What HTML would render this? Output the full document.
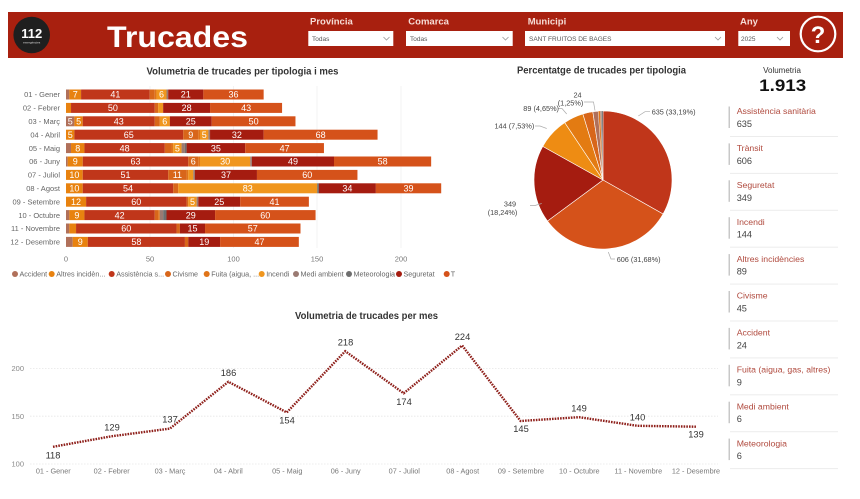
<!DOCTYPE html>
<html>
<head>
<meta charset="utf-8">
<style>
html,body{margin:0;padding:0;background:#fff;}
body{width:860px;height:499px;overflow:hidden;font-family:"Liberation Sans",Arial,sans-serif;}
svg{display:block;}
text{font-family:"Liberation Sans",Arial,sans-serif;}
</style>
</head>
<body>
<svg width="860" height="499" viewBox="0 0 860 499" xmlns="http://www.w3.org/2000/svg">
<rect x="0" y="0" width="860" height="499" fill="#ffffff"/>

<!-- ================= HEADER ================= -->
<rect x="8" y="12" width="835" height="46" fill="#a8200f"/>
<circle cx="31.7" cy="35" r="18.3" fill="#1f1f1f"/>
<text x="31.7" y="38" font-size="13" font-weight="bold" fill="#fff" text-anchor="middle">112</text>
<text x="31.7" y="43.5" font-size="3" fill="#ddd" text-anchor="middle">emergències</text>
<text x="107" y="47" font-size="30" font-weight="bold" fill="#fff" textLength="141" lengthAdjust="spacingAndGlyphs">Trucades</text>

<g font-size="9.5" font-weight="bold" fill="#f6dcd6">
  <text x="310" y="24.5">Província</text>
  <text x="408.3" y="24.5">Comarca</text>
  <text x="527.7" y="24.5">Municipi</text>
  <text x="740" y="24.5">Any</text>
</g>
<g fill="#fff">
  <rect x="308.3" y="31" width="85" height="15"/>
  <rect x="406" y="31" width="106.7" height="15"/>
  <rect x="525" y="31" width="200" height="15"/>
  <rect x="738.3" y="31" width="51.7" height="15"/>
</g>
<g font-size="6.5" fill="#555">
  <text x="312" y="41">Todas</text>
  <text x="410" y="41">Todas</text>
  <text x="529" y="41">SANT FRUITOS DE BAGES</text>
  <text x="741" y="41">2025</text>
</g>
<g stroke="#9a9a9a" stroke-width="0.8" fill="none">
  <polyline points="383.5,37 386.5,40 389.5,37"/>
  <polyline points="502.5,37 505.5,40 508.5,37"/>
  <polyline points="715,37 718,40 721,37"/>
  <polyline points="777,37 780,40 783,37"/>
</g>
<circle cx="818" cy="34" r="17.3" fill="none" stroke="#fff" stroke-width="2.2"/>
<text x="818" y="43" font-size="24" font-weight="bold" fill="#fff" text-anchor="middle">?</text>

<!-- ================= BAR CHART ================= -->
<text x="242.5" y="74.5" font-size="10" font-weight="bold" fill="#333" text-anchor="middle" textLength="192" lengthAdjust="spacingAndGlyphs">Volumetria de trucades per tipologia i mes</text>

<g stroke="#f3f3f3" stroke-width="1">
  <line x1="150" y1="86" x2="150" y2="248"/>
  <line x1="233.5" y1="86" x2="233.5" y2="248"/>
  <line x1="317" y1="86" x2="317" y2="248"/>
  <line x1="401" y1="86" x2="401" y2="248"/>
</g>

<g font-size="7.5" fill="#666" text-anchor="end">
  <text x="60" y="97.2">01 - Gener</text>
  <text x="60" y="110.6">02 - Febrer</text>
  <text x="60" y="124">03 - Març</text>
  <text x="60" y="137.4">04 - Abril</text>
  <text x="60" y="150.8">05 - Maig</text>
  <text x="60" y="164.2">06 - Juny</text>
  <text x="60" y="177.6">07 - Juliol</text>
  <text x="60" y="191">08 - Agost</text>
  <text x="60" y="204.4">09 - Setembre</text>
  <text x="60" y="217.8">10 - Octubre</text>
  <text x="60" y="231.2">11 - Novembre</text>
  <text x="60" y="244.6">12 - Desembre</text>
</g>

<!-- Row 1 -->
<g>
<rect x="66" y="89.5" width="3.35" height="10" fill="#b0705a"/>
<rect x="69.35" y="89.5" width="11.725" height="10" fill="#e8820f"/>
<rect x="81.075" y="89.5" width="68.675" height="10" fill="#c0361a"/>
<rect x="149.75" y="89.5" width="5.025" height="10" fill="#d8661a"/>
<rect x="154.775" y="89.5" width="1.675" height="10" fill="#e07418"/>
<rect x="156.45" y="89.5" width="10.05" height="10" fill="#f0961e"/>
<rect x="166.5" y="89.5" width="1.675" height="10" fill="#9a7a72"/>
<rect x="168.175" y="89.5" width="35.175" height="10" fill="#a51c10"/>
<rect x="203.35" y="89.5" width="60.3" height="10" fill="#d5521a"/>
</g>
<!-- Row 2 -->
<g>
<rect x="66" y="102.9" width="5.025" height="10" fill="#e8820f"/>
<rect x="71.025" y="102.9" width="83.75" height="10" fill="#c0361a"/>
<rect x="154.775" y="102.9" width="3.35" height="10" fill="#d8661a"/>
<rect x="158.125" y="102.9" width="5.025" height="10" fill="#f0961e"/>
<rect x="163.15" y="102.9" width="46.9" height="10" fill="#a51c10"/>
<rect x="210.05" y="102.9" width="72.025" height="10" fill="#d5521a"/>
</g>
<!-- Row 3 -->
<g>
<rect x="66" y="116.3" width="8.375" height="10" fill="#b0705a"/>
<rect x="74.375" y="116.3" width="8.375" height="10" fill="#e8820f"/>
<rect x="82.75" y="116.3" width="72.025" height="10" fill="#c0361a"/>
<rect x="154.775" y="116.3" width="5.025" height="10" fill="#d8661a"/>
<rect x="159.8" y="116.3" width="10.05" height="10" fill="#f0961e"/>
<rect x="169.85" y="116.3" width="41.875" height="10" fill="#a51c10"/>
<rect x="211.725" y="116.3" width="83.75" height="10" fill="#d5521a"/>
</g>
<!-- Row 4 -->
<g>
<rect x="66" y="129.7" width="8.375" height="10" fill="#e8820f"/>
<rect x="74.375" y="129.7" width="108.875" height="10" fill="#c0361a"/>
<rect x="183.25" y="129.7" width="15.075" height="10" fill="#d8661a"/>
<rect x="198.325" y="129.7" width="1.675" height="10" fill="#e07418"/>
<rect x="200" y="129.7" width="8.375" height="10" fill="#f0961e"/>
<rect x="208.375" y="129.7" width="1.675" height="10" fill="#9a7a72"/>
<rect x="210.05" y="129.7" width="53.6" height="10" fill="#a51c10"/>
<rect x="263.65" y="129.7" width="113.9" height="10" fill="#d5521a"/>
</g>
<!-- Row 5 -->
<g>
<rect x="66" y="143.1" width="5.025" height="10" fill="#b0705a"/>
<rect x="71.025" y="143.1" width="13.4" height="10" fill="#e8820f"/>
<rect x="84.425" y="143.1" width="80.4" height="10" fill="#c0361a"/>
<rect x="164.825" y="143.1" width="6.7" height="10" fill="#d8661a"/>
<rect x="171.525" y="143.1" width="1.675" height="10" fill="#e07418"/>
<rect x="173.2" y="143.1" width="8.375" height="10" fill="#f0961e"/>
<rect x="181.575" y="143.1" width="3.35" height="10" fill="#9a7a72"/>
<rect x="184.925" y="143.1" width="1.675" height="10" fill="#6e6e6e"/>
<rect x="186.6" y="143.1" width="58.625" height="10" fill="#a51c10"/>
<rect x="245.225" y="143.1" width="78.725" height="10" fill="#d5521a"/>
</g>
<!-- Row 6 -->
<g>
<rect x="66" y="156.5" width="1.675" height="10" fill="#b0705a"/>
<rect x="67.675" y="156.5" width="15.075" height="10" fill="#e8820f"/>
<rect x="82.75" y="156.5" width="105.525" height="10" fill="#c0361a"/>
<rect x="188.275" y="156.5" width="10.05" height="10" fill="#d8661a"/>
<rect x="198.325" y="156.5" width="1.675" height="10" fill="#e07418"/>
<rect x="200" y="156.5" width="50.25" height="10" fill="#f0961e"/>
<rect x="250.25" y="156.5" width="1.675" height="10" fill="#9a7a72"/>
<rect x="251.925" y="156.5" width="82.075" height="10" fill="#a51c10"/>
<rect x="334" y="156.5" width="97.15" height="10" fill="#d5521a"/>
</g>
<!-- Row 7 -->
<g>
<rect x="66" y="169.9" width="16.75" height="10" fill="#e8820f"/>
<rect x="82.75" y="169.9" width="85.425" height="10" fill="#c0361a"/>
<rect x="168.175" y="169.9" width="18.425" height="10" fill="#d8661a"/>
<rect x="186.6" y="169.9" width="1.675" height="10" fill="#e07418"/>
<rect x="188.275" y="169.9" width="5.025" height="10" fill="#f0961e"/>
<rect x="193.3" y="169.9" width="1.675" height="10" fill="#9a7a72"/>
<rect x="194.975" y="169.9" width="61.975" height="10" fill="#a51c10"/>
<rect x="256.95" y="169.9" width="100.5" height="10" fill="#d5521a"/>
</g>
<!-- Row 8 -->
<g>
<rect x="66" y="183.3" width="16.75" height="10" fill="#e8820f"/>
<rect x="82.75" y="183.3" width="90.45" height="10" fill="#c0361a"/>
<rect x="173.2" y="183.3" width="5.025" height="10" fill="#d8661a"/>
<rect x="178.225" y="183.3" width="139.025" height="10" fill="#f0961e"/>
<rect x="317.25" y="183.3" width="1.675" height="10" fill="#6e6e6e"/>
<rect x="318.925" y="183.3" width="56.95" height="10" fill="#a51c10"/>
<rect x="375.875" y="183.3" width="65.325" height="10" fill="#d5521a"/>
</g>
<!-- Row 9 -->
<g>
<rect x="66" y="196.7" width="20.1" height="10" fill="#e8820f"/>
<rect x="86.1" y="196.7" width="100.5" height="10" fill="#c0361a"/>
<rect x="186.6" y="196.7" width="1.675" height="10" fill="#d8661a"/>
<rect x="188.275" y="196.7" width="8.375" height="10" fill="#f0961e"/>
<rect x="196.65" y="196.7" width="1.675" height="10" fill="#9a7a72"/>
<rect x="198.325" y="196.7" width="41.875" height="10" fill="#a51c10"/>
<rect x="240.2" y="196.7" width="68.675" height="10" fill="#d5521a"/>
</g>
<!-- Row 10 -->
<g>
<rect x="66" y="210.1" width="3.35" height="10" fill="#b0705a"/>
<rect x="69.35" y="210.1" width="15.075" height="10" fill="#e8820f"/>
<rect x="84.425" y="210.1" width="70.35" height="10" fill="#c0361a"/>
<rect x="154.775" y="210.1" width="3.35" height="10" fill="#d8661a"/>
<rect x="158.125" y="210.1" width="1.675" height="10" fill="#e07418"/>
<rect x="159.8" y="210.1" width="3.35" height="10" fill="#9a7a72"/>
<rect x="163.15" y="210.1" width="3.35" height="10" fill="#6e6e6e"/>
<rect x="166.5" y="210.1" width="48.575" height="10" fill="#a51c10"/>
<rect x="215.075" y="210.1" width="100.5" height="10" fill="#d5521a"/>
</g>
<!-- Row 11 -->
<g>
<rect x="66" y="223.5" width="3.35" height="10" fill="#b0705a"/>
<rect x="69.35" y="223.5" width="6.7" height="10" fill="#e8820f"/>
<rect x="76.05" y="223.5" width="100.5" height="10" fill="#c0361a"/>
<rect x="176.55" y="223.5" width="3.35" height="10" fill="#d8661a"/>
<rect x="179.9" y="223.5" width="25.125" height="10" fill="#a51c10"/>
<rect x="205.025" y="223.5" width="95.475" height="10" fill="#d5521a"/>
</g>
<!-- Row 12 -->
<g>
<rect x="66" y="236.9" width="6.7" height="10" fill="#b0705a"/>
<rect x="72.7" y="236.9" width="15.075" height="10" fill="#e8820f"/>
<rect x="87.775" y="236.9" width="97.15" height="10" fill="#c0361a"/>
<rect x="184.925" y="236.9" width="3.35" height="10" fill="#d8661a"/>
<rect x="188.275" y="236.9" width="31.825" height="10" fill="#a51c10"/>
<rect x="220.1" y="236.9" width="78.725" height="10" fill="#d5521a"/>
</g>

<!-- bar labels -->
<g font-size="9" fill="#fff" text-anchor="middle">
  <text x="75.2" y="97.7">7</text><text x="115.4" y="97.7">41</text><text x="161.5" y="97.7">6</text><text x="185.8" y="97.7">21</text><text x="233.5" y="97.7">36</text>
  <text x="112.9" y="111.1">50</text><text x="186.6" y="111.1">28</text><text x="246.1" y="111.1">43</text>
  <text x="70.2" y="124.5">5</text><text x="78.6" y="124.5">5</text><text x="118.8" y="124.5">43</text><text x="164.8" y="124.5">6</text><text x="190.8" y="124.5">25</text><text x="253.6" y="124.5">50</text>
  <text x="70.2" y="137.9">5</text><text x="128.8" y="137.9">65</text><text x="190.8" y="137.9">9</text><text x="204.2" y="137.9">5</text><text x="236.85" y="137.9">32</text><text x="320.6" y="137.9">68</text>
  <text x="77.7" y="151.3">8</text><text x="124.6" y="151.3">48</text><text x="177.4" y="151.3">5</text><text x="215.9" y="151.3">35</text><text x="284.6" y="151.3">47</text>
  <text x="75.2" y="164.7">9</text><text x="135.5" y="164.7">63</text><text x="193.3" y="164.7">6</text><text x="225.1" y="164.7">30</text><text x="293" y="164.7">49</text><text x="382.6" y="164.7">58</text>
  <text x="74.4" y="178.1">10</text><text x="125.5" y="178.1">51</text><text x="177.4" y="178.1">11</text><text x="226" y="178.1">37</text><text x="307.2" y="178.1">60</text>
  <text x="74.4" y="191.5">10</text><text x="128" y="191.5">54</text><text x="247.7" y="191.5">83</text><text x="347.4" y="191.5">34</text><text x="408.5" y="191.5">39</text>
  <text x="76" y="204.9">12</text><text x="136.3" y="204.9">60</text><text x="192.5" y="204.9">5</text><text x="219.3" y="204.9">25</text><text x="274.5" y="204.9">41</text>
  <text x="76.9" y="218.3">9</text><text x="119.6" y="218.3">42</text><text x="190.8" y="218.3">29</text><text x="265.3" y="218.3">60</text>
  <text x="126.3" y="231.7">60</text><text x="192.5" y="231.7">15</text><text x="252.8" y="231.7">57</text>
  <text x="80.2" y="245.1">9</text><text x="136.4" y="245.1">58</text><text x="204.2" y="245.1">19</text><text x="259.5" y="245.1">47</text>
</g>

<g font-size="7.5" fill="#777" text-anchor="middle">
  <text x="66" y="261.5">0</text>
  <text x="150" y="261.5">50</text>
  <text x="233.5" y="261.5">100</text>
  <text x="317" y="261.5">150</text>
  <text x="401" y="261.5">200</text>
</g>

<!-- legend -->
<defs><clipPath id="lc"><rect x="0" y="262" width="455" height="20"/></clipPath></defs>
<g clip-path="url(#lc)" font-size="7.2" fill="#666">
  <circle cx="15" cy="274" r="3" fill="#b0705a"/><text x="19.5" y="276.5">Accident</text>
  <circle cx="51.7" cy="274" r="3" fill="#e8820f"/><text x="56.2" y="276.5">Altres incidèn...</text>
  <circle cx="111.7" cy="274" r="3" fill="#c0361a"/><text x="116.2" y="276.5">Assistència s...</text>
  <circle cx="168" cy="274" r="3" fill="#d8661a"/><text x="172.5" y="276.5">Civisme</text>
  <circle cx="206.7" cy="274" r="3" fill="#e07418"/><text x="211.2" y="276.5">Fuita (aigua, ...</text>
  <circle cx="261.7" cy="274" r="3" fill="#f0961e"/><text x="266.2" y="276.5">Incendi</text>
  <circle cx="296" cy="274" r="3" fill="#9a7a72"/><text x="300.5" y="276.5">Medi ambient</text>
  <circle cx="349" cy="274" r="3" fill="#6e6e6e"/><text x="353.5" y="276.5">Meteorologia</text>
  <circle cx="399" cy="274" r="3" fill="#a51c10"/><text x="403.5" y="276.5">Seguretat</text>
  <circle cx="446.7" cy="274" r="3" fill="#d5521a"/><text x="450.7" y="276.5">Trànsit</text>
</g>

<!-- ================= PIE ================= -->
<text x="601.5" y="73.5" font-size="10" font-weight="bold" fill="#333" text-anchor="middle" textLength="169" lengthAdjust="spacingAndGlyphs">Percentatge de trucades per tipologia</text>
<g stroke="#fff" stroke-width="0.6">
  <path d="M603,180 L603,111 A69,69 0 0 1 663.06,213.98 Z" fill="#c0361a"/>
  <path d="M603,180 L663.06,213.98 A69,69 0 0 1 547.5,221 Z" fill="#d5521a"/>
  <path d="M603,180 L547.5,221 A69,69 0 0 1 542.78,146.33 Z" fill="#a51c10"/>
  <path d="M603,180 L542.78,146.33 A69,69 0 0 1 564.73,122.59 Z" fill="#ee8c13"/>
  <path d="M603,180 L564.73,122.59 A69,69 0 0 1 582.89,114 Z" fill="#e37b12"/>
  <path d="M603,180 L582.89,114 A69,69 0 0 1 592.84,111.75 Z" fill="#d8661a"/>
  <path d="M603,180 L592.84,111.75 A69,69 0 0 1 598.25,111.16 Z" fill="#b0705a"/>
  <path d="M603,180 L598.25,111.16 A69,69 0 0 1 600.28,111.05 Z" fill="#e07418" stroke-width="0.2"/>
  <path d="M603,180 L600.28,111.05 A69,69 0 0 1 601.64,111.01 Z" fill="#9a7a72" stroke-width="0.2"/>
  <path d="M603,180 L601.64,111.01 A69,69 0 0 1 603,111 Z" fill="#6e6e6e" stroke-width="0.2"/>
</g>
<g stroke="#aaa" stroke-width="0.7" fill="none">
  <polyline points="638.3,116 645,111.7 650,111.7"/>
  <polyline points="608.3,252 611,259 615,259"/>
  <polyline points="541.7,203.5 535,205.5 530,205.5"/>
  <polyline points="546.7,128.5 540,126 535,126"/>
  <polyline points="566.7,114 562,108.5 558,108.5"/>
  <polyline points="595,110.5 593.5,102 584,102"/>
</g>
<g font-size="7.3" fill="#444">
  <text x="651.7" y="114.3">635 (33,19%)</text>
  <text x="616.7" y="261.8">606 (31,68%)</text>
  <text x="510" y="206.5" text-anchor="middle">349</text>
  <text x="502.5" y="215" text-anchor="middle">(18,24%)</text>
  <text x="494.5" y="128.5">144 (7,53%)</text>
  <text x="523.3" y="111">89 (4,65%)</text>
  <text x="577.5" y="97.5" text-anchor="middle">24</text>
  <text x="570.5" y="105.3" text-anchor="middle">(1,25%)</text>
</g>

<!-- ================= RIGHT PANEL ================= -->
<text x="782" y="73" font-size="8" fill="#333" text-anchor="middle">Volumetria</text>
<text x="782.7" y="91" font-size="17" font-weight="bold" fill="#111" text-anchor="middle" textLength="47" lengthAdjust="spacingAndGlyphs">1.913</text>

<g>
  <g fill="#c8c8c8">
    <rect x="728.5" y="106.5" width="1.5" height="21.5"/>
    <rect x="728.5" y="143.4" width="1.5" height="21.5"/>
    <rect x="728.5" y="180.3" width="1.5" height="21.5"/>
    <rect x="728.5" y="217.2" width="1.5" height="21.5"/>
    <rect x="728.5" y="254.1" width="1.5" height="21.5"/>
    <rect x="728.5" y="291" width="1.5" height="21.5"/>
    <rect x="728.5" y="327.9" width="1.5" height="21.5"/>
    <rect x="728.5" y="364.8" width="1.5" height="21.5"/>
    <rect x="728.5" y="401.7" width="1.5" height="21.5"/>
    <rect x="728.5" y="438.6" width="1.5" height="21.5"/>
  </g>
  <g fill="#ececec">
    <rect x="730" y="136" width="108" height="1"/>
    <rect x="730" y="172.9" width="108" height="1"/>
    <rect x="730" y="209.8" width="108" height="1"/>
    <rect x="730" y="246.7" width="108" height="1"/>
    <rect x="730" y="283.6" width="108" height="1"/>
    <rect x="730" y="320.5" width="108" height="1"/>
    <rect x="730" y="357.4" width="108" height="1"/>
    <rect x="730" y="394.3" width="108" height="1"/>
    <rect x="730" y="431.2" width="108" height="1"/>
    <rect x="730" y="468.1" width="108" height="1"/>
  </g>
  <g font-size="8.7" fill="#b04a3e">
    <text x="736.7" y="114.2">Assistència sanitària</text>
    <text x="736.7" y="151.1">Trànsit</text>
    <text x="736.7" y="188">Seguretat</text>
    <text x="736.7" y="224.9">Incendi</text>
    <text x="736.7" y="261.8">Altres incidències</text>
    <text x="736.7" y="298.7">Civisme</text>
    <text x="736.7" y="335.6">Accident</text>
    <text x="736.7" y="372.5">Fuita (aigua, gas, altres)</text>
    <text x="736.7" y="409.4">Medi ambient</text>
    <text x="736.7" y="446.3">Meteorologia</text>
  </g>
  <g font-size="9.2" fill="#444">
    <text x="736.7" y="127">635</text>
    <text x="736.7" y="163.9">606</text>
    <text x="736.7" y="200.8">349</text>
    <text x="736.7" y="237.7">144</text>
    <text x="736.7" y="274.6">89</text>
    <text x="736.7" y="311.5">45</text>
    <text x="736.7" y="348.4">24</text>
    <text x="736.7" y="385.3">9</text>
    <text x="736.7" y="422.2">6</text>
    <text x="736.7" y="459.1">6</text>
  </g>
</g>

<!-- ================= LINE CHART ================= -->
<text x="366.5" y="319" font-size="10" font-weight="bold" fill="#333" text-anchor="middle" textLength="143" lengthAdjust="spacingAndGlyphs">Volumetria de trucades per mes</text>

<g stroke="#e6e6e6" stroke-width="0.8" stroke-dasharray="1.5 1.5">
  <line x1="30" y1="368.4" x2="718" y2="368.4"/>
  <line x1="30" y1="416.2" x2="718" y2="416.2"/>
  <line x1="30" y1="464" x2="718" y2="464"/>
</g>
<g font-size="7.5" fill="#888" text-anchor="end">
  <text x="24" y="371">200</text>
  <text x="24" y="418.8">150</text>
  <text x="24" y="466.6">100</text>
</g>

<polyline fill="none" stroke="#8e1f1a" stroke-width="2.4" stroke-dasharray="1.6 1.1"
  points="53,446.8 111.45,436.3 169.9,428.6 228.35,381.8 286.8,412.4 345.25,351.2 403.7,393.3 462.15,345.5 520.6,421 579.05,417.2 637.5,425.8 695.95,426.7"/>

<g font-size="9.3" fill="#333" text-anchor="middle">
  <text x="53" y="458.5">118</text>
  <text x="112" y="430.5">129</text>
  <text x="170" y="422.6">137</text>
  <text x="228.5" y="376">186</text>
  <text x="287" y="423.5">154</text>
  <text x="345.5" y="345.6">218</text>
  <text x="404" y="405">174</text>
  <text x="462.5" y="340">224</text>
  <text x="521" y="432">145</text>
  <text x="579" y="411.6">149</text>
  <text x="637.5" y="420.6">140</text>
  <text x="696" y="437.5">139</text>
</g>

<g font-size="7.3" fill="#777" text-anchor="middle">
  <text x="53.3" y="473.5">01 - Gener</text>
  <text x="111.7" y="473.5">02 - Febrer</text>
  <text x="170" y="473.5">03 - Març</text>
  <text x="228.3" y="473.5">04 - Abril</text>
  <text x="287.3" y="473.5">05 - Maig</text>
  <text x="345.7" y="473.5">06 - Juny</text>
  <text x="404.3" y="473.5">07 - Juliol</text>
  <text x="462.7" y="473.5">08 - Agost</text>
  <text x="521" y="473.5">09 - Setembre</text>
  <text x="579.3" y="473.5">10 - Octubre</text>
  <text x="638.3" y="473.5">11 - Novembre</text>
  <text x="696" y="473.5">12 - Desembre</text>
</g>
</svg>
</body>
</html>
